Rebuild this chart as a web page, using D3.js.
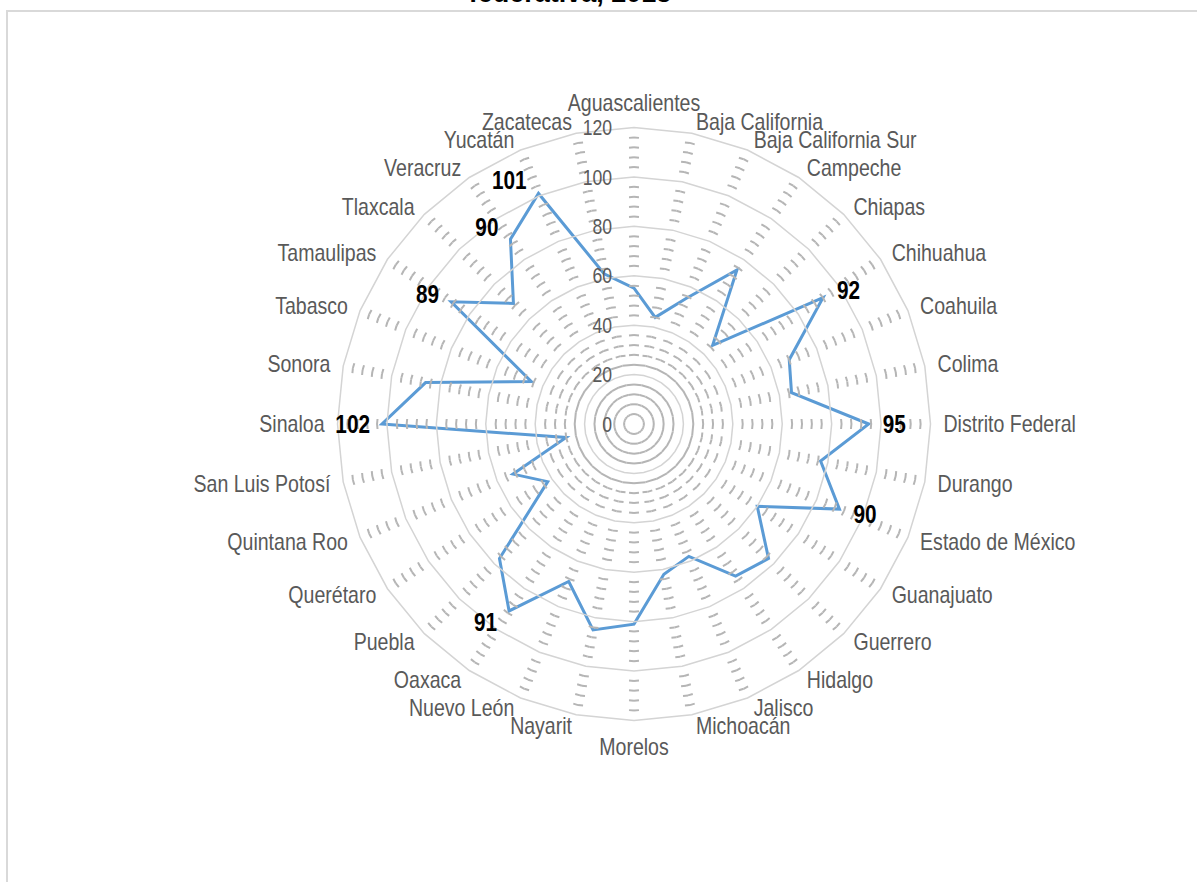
<!DOCTYPE html>
<html><head><meta charset="utf-8">
<script src="https://cdn.jsdelivr.net/npm/d3@7"></script>
<style>body{margin:0;background:#fff;}svg{display:block;}</style>
</head><body>
<svg id="chart" width="1197" height="882"></svg>
<script>
const categories = ["Aguascalientes","Baja California","Baja California Sur","Campeche","Chiapas","Chihuahua","Coahuila","Colima","Distrito Federal","Durango","Estado de México","Guanajuato","Guerrero","Hidalgo","Jalisco","Michoacán","Morelos","Nayarit","Nuevo León","Oaxaca","Puebla","Querétaro","Quintana Roo","San Luis Potosí","Sinaloa","Sonora","Tabasco","Tamaulipas","Tlaxcala","Veracruz","Yucatán","Zacatecas"];
const values = [55,44,55,75,45,92,68,65,95,77,90,60,77,74,58,62,81,85,69,91,77,42,53,28,102,86,45,89,69,90,101,62];
const labeledStates = ["Chihuahua","Distrito Federal","Estado de México","Oaxaca","Sinaloa","Tamaulipas","Veracruz","Yucatán"];
const ticks = [0,20,40,60,80,100,120];
const minorStep = 4;
const titleText = "federativa, 2013";

const svg = d3.select("#chart");
const cx = 634, cy = 424, R = 296.5;
const n = categories.length;
const r = d3.scaleLinear().domain([0,120]).range([0,R]);
const ang = d3.scaleLinear().domain([0,n]).range([0,2*Math.PI]);
const pt = (i,v) => [cx + r(v)*Math.sin(ang(i)), cy - r(v)*Math.cos(ang(i))];
const FONT = "Liberation Sans, Arial, sans-serif";

// frame
svg.append("rect").attr("x",7).attr("y",11).attr("width",1200).attr("height",900)
  .attr("fill","none").attr("stroke","#d9d9d9").attr("stroke-width",2);
// title (cut off at top)
svg.append("text").attr("x",570).attr("y",2).attr("text-anchor","middle")
  .attr("font-family",FONT).attr("font-weight","bold")
  .attr("font-size",27).attr("fill","#000").text(titleText);

const g = svg.append("g");

// series line
const line = d3.lineRadial().angle((d,i)=>ang(i)).radius(d=>r(d)).curve(d3.curveLinearClosed);
g.append("path").datum(values).attr("transform",`translate(${cx},${cy})`)
  .attr("d",line).attr("fill","none").attr("stroke","#5b9bd5").attr("stroke-width",3)
  .attr("stroke-linejoin","miter");

// grid
const majorLevels = ticks.filter(t=>t>0);
const minorLevels = d3.range(minorStep,120,minorStep).filter(v=>v%20!==0);
const gridG = g.append("g");
const dHalf = 5;
minorLevels.forEach(v=>{
  for(let i=0;i<n;i++){
    const a = pt(i,v), b = pt(i+1,v);
    const L = Math.hypot(b[0]-a[0],b[1]-a[1]);
    const ln = gridG.append("line").attr("x1",a[0]).attr("y1",a[1]).attr("x2",b[0]).attr("y2",b[1])
      .attr("stroke","#b5b5b5").attr("stroke-width",2);
    if(L>2*dHalf+2) ln.attr("stroke-dasharray",`${dHalf} ${L-2*dHalf} ${dHalf} 0`);
  }
});
majorLevels.forEach(v=>{
  gridG.append("path").datum(d3.range(n).map(()=>v)).attr("transform",`translate(${cx},${cy})`)
    .attr("d",line).attr("fill","none").attr("stroke","#d4d4d4").attr("stroke-width",1.5);
});

// condensed text helper
function ctext(sel, x, y, anchor, size, sx, weight, fill){
  sel.attr("transform",`translate(${x},${y}) scale(${sx},1)`)
    .attr("x",0).attr("y",0).attr("dy","0.35em").attr("text-anchor",anchor)
    .attr("font-family",FONT).attr("font-size",size).attr("font-weight",weight).attr("fill",fill);
}

// tick labels
g.selectAll("text.tick").data(ticks).join("text").attr("class","tick")
  .each(function(d){ ctext(d3.select(this), cx-22, cy-r(d), "end", 22, 0.8, "normal", "#595959"); })
  .text(d=>d);

// category labels
const gap = 11;
g.selectAll("text.cat").data(categories).join("text").attr("class","cat")
  .each(function(d,i){
    const a = ang(i), s = Math.sin(a), c = Math.cos(a);
    const px = cx + (R+gap)*s, py = cy - (R+gap)*c;
    const t = d3.select(this);
    if (Math.abs(s) < 0.01) ctext(t, px, c>0 ? py-14 : py+15, "middle", 23, 0.85, "normal", "#595959");
    else ctext(t, s>0 ? px+2 : px-2, py, s>0?"start":"end", 23, 0.85, "normal", "#595959");
  })
  .text(d=>d);

// data labels
const lab = categories.map((c,i)=>({c,i,v:values[i]})).filter(d=>labeledStates.includes(d.c));
g.selectAll("text.dl").data(lab).join("text").attr("class","dl")
  .each(function(d){
    const [x,y] = pt(d.i,d.v);
    const a = ang(d.i), s = Math.sin(a), c = Math.cos(a);
    ctext(d3.select(this), x + (s>0 ? 14 : -12), y - c*14, s>0 ? "start":"end", 25, 0.83, "bold", "#000");
  })
  .text(d=>d.v);
</script>
</body></html>
